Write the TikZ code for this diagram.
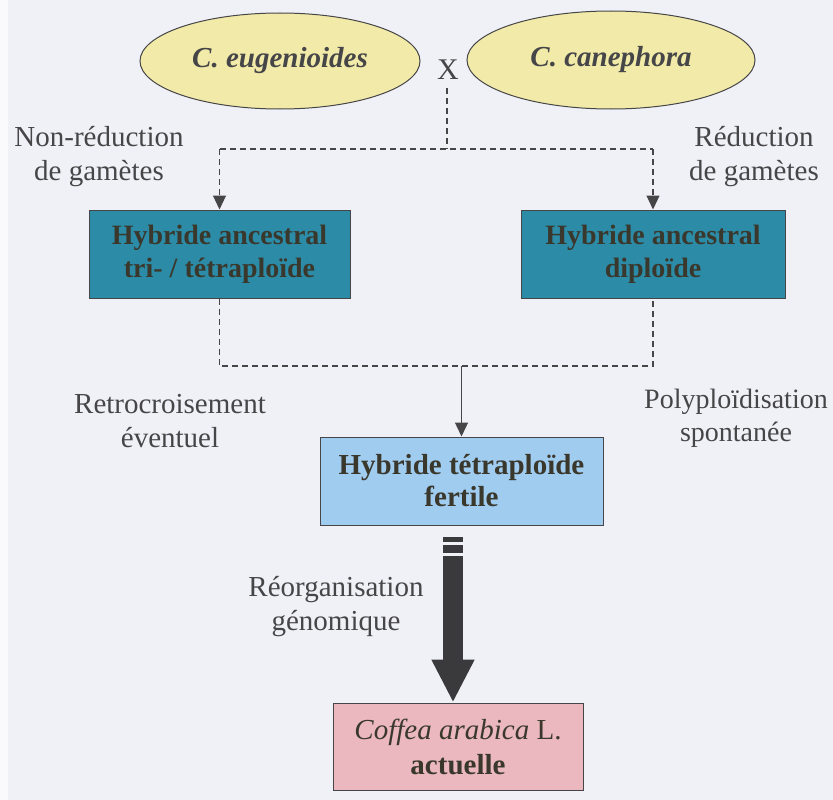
\documentclass[tikz,border=0pt]{standalone}
\usepackage{fontspec}
\setmainfont{Liberation Serif}
\usetikzlibrary{shapes.geometric,arrows.meta}
\definecolor{bgc}{RGB}{240,240,247}
\definecolor{ellfill}{RGB}{242,234,168}
\definecolor{tealbox}{RGB}{44,140,168}
\definecolor{bluebox}{RGB}{160,204,240}
\definecolor{pinkbox}{RGB}{234,184,190}
\definecolor{inkc}{RGB}{70,70,72}
\definecolor{boxtext}{RGB}{58,56,44}
\definecolor{darkarrow}{RGB}{58,58,60}
\tikzset{
  txt/.style={font=\fontsize{29}{34}\selectfont, text=inkc, align=center, inner sep=0pt},
  species/.style={ellipse, draw=inkc, line width=1pt, fill=ellfill, inner sep=0pt,
    font=\fontsize{29}{34}\selectfont\bfseries\itshape, text=inkc},
  tealnode/.style={rectangle, draw=inkc, line width=1pt, fill=tealbox, inner sep=0pt,
    minimum height=88pt, align=center, text=boxtext,
    font=\fontsize{28}{33}\selectfont\bfseries},
  lightnode/.style={rectangle, draw=inkc, line width=1pt, inner sep=0pt,
    minimum height=88pt, align=center, text=boxtext,
    font=\fontsize{29}{32}\selectfont\bfseries},
  dashconn/.style={draw=inkc, line width=1.1pt, dash pattern=on 6pt off 4pt},
  tipc/.style={-{Triangle[width=13pt,length=14pt]}},
}
\begin{document}
\begin{tikzpicture}[x=1pt,y=-1pt]
\useasboundingbox (0,0) rectangle (833,800);
\fill[bgc] (0,0) rectangle (833,800);
\fill[white!70!bgc] (0,0) rectangle (8,800);

% parents
\node[species, minimum width=280pt, minimum height=96pt] (eug) at (280,61) {C. eugenioides};
\node[species, minimum width=288pt, minimum height=98pt] (can) at (611,60) {C. canephora};
\node[txt, font=\fontsize{30}{34}\selectfont] (cross) at (448,70) {X};

% labels
\node[txt] (nonred) at (99,157) {Non-réduction\\de gamètes};
\node[txt] (red) at (754,157) {Réduction\\de gamètes};
\node[txt] (retro) at (170,421) {Retrocroisement\\éventuel};
\node[txt, font=\fontsize{28}{33}\selectfont] (poly) at (736,418) {Polyploïdisation\\spontanée};
\node[txt] (reorg) at (336,607) {Réorganisation\\génomique};

% boxes
\node[tealnode, minimum width=261pt] (hyb1) at (219.5,254) {Hybride ancestral\\tri- / tétraploïde};
\node[tealnode, minimum width=264pt] (hyb2) at (653,254) {Hybride ancestral\\diploïde};
\node[lightnode, fill=bluebox, minimum width=283pt] (tetra) at (461.5,481) {Hybride tétraploïde\\fertile};
\node[lightnode, fill=pinkbox, minimum width=250pt, minimum height=87pt,
      font=\fontsize{29}{35}\selectfont] (arab) at (458,746.5)
      {\textit{Coffea arabica} L.\\\textbf{actuelle}};

% upper dashed connector
\coordinate (xs) at (447,88);
\coordinate (hl) at (hyb1.north |- 0,149);
\coordinate (hr) at (hyb2.north |- 0,149);
\draw[dashconn] (xs) -- (447,149);
\draw[dashconn] (hl) -- (hr);
\draw[dashconn, tipc] (hl) -- (hyb1.north);
\draw[dashconn, tipc] (hr) -- (hyb2.north);

% lower dashed connector
\coordinate (ll) at (hyb1.south |- 0,366);
\coordinate (lr) at (hyb2.south |- 0,366);
\coordinate (lm) at (tetra.north |- 0,366);
\draw[dashconn] (hyb1.south) -- (ll) -- (lr) -- (hyb2.south);
\draw[draw=inkc, line width=1.3pt, tipc] (lm) -- (tetra.north);

% thick arrow
\fill[darkarrow] (443,537) rectangle (463,542);
\fill[darkarrow] (443,545) rectangle (463,553);
\coordinate (ts) at (453,556);
\draw[darkarrow, line width=20pt, -{Triangle[width=40pt,length=43pt]}] (ts) -- (arab.north -| ts);
\end{tikzpicture}
\end{document}
